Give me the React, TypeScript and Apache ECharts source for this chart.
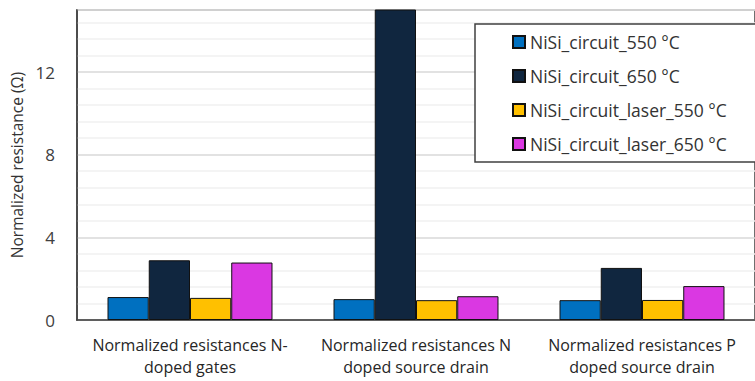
import React, { useEffect, useRef } from "react";
import * as echarts from "echarts";

const categories = [
  "Normalized resistances N-\ndoped gates",
  "Normalized resistances N\ndoped source drain",
  "Normalized resistances P\ndoped source drain",
];
const seriesNames = [
  "NiSi_circuit_550 °C",
  "NiSi_circuit_650 °C",
  "NiSi_circuit_laser_550 °C",
  "NiSi_circuit_laser_650 °C",
];
const nisi550 = [1.11, 1.01, 0.96];
const nisi650 = [2.89, 20, 2.52];
const laser550 = [1.07, 0.96, 0.97];
const laser650 = [2.78, 1.15, 1.64];
const seriesColors = ["#0070C0", "#10263F", "#FFC000", "#DA38E2"];
const yTickLabels = [0, 4, 8, 12];

export default function App() {
  const ref = useRef<HTMLDivElement>(null);
  useEffect(() => {
    if (!ref.current) return;
    const chart = echarts.init(ref.current, null, { renderer: "svg" });
    const values = [nisi550, nisi650, laser550, laser650];
    const font = "'Open Sans', 'Noto Sans', sans-serif";
    chart.setOption({
      animation: false,
      textStyle: { fontFamily: font },
      grid: { left: 77, right: -12, top: 10, bottom: 61, show: true, borderColor: "#404040", borderWidth: 1.5, backgroundColor: "transparent" },
      legend: {
        orient: "vertical",
        left: 507,
        top: 28,
        itemWidth: 12,
        itemHeight: 12,
        itemGap: 16,
        icon: "rect",
        data: seriesNames,
        textStyle: { fontFamily: font, fontSize: 17.5, color: "#333" },
        z: 10,
      },
      graphic: [
        {
          type: "rect",
          z: 9,
          shape: { x: 475, y: 24, width: 300, height: 138 },
          style: { fill: "#fff", stroke: "#404040", lineWidth: 1.5 },
        },
      ],
      xAxis: {
        type: "category",
        data: categories,
        axisTick: { show: false },
        axisLine: { lineStyle: { color: "#404040", width: 1.5 } },
        axisLabel: { interval: 0, color: "#262626", fontSize: 16, lineHeight: 22, margin: 14, fontFamily: font },
      },
      yAxis: {
        type: "value",
        min: 0,
        max: 15,
        interval: 0.8,
        name: "Normalized resistance (Ω)",
        nameLocation: "middle",
        nameGap: 50,
        nameTextStyle: { fontSize: 15.5, color: "#333", fontFamily: font },
        axisLine: { show: true, lineStyle: { color: "#404040", width: 1.5 } },
        axisTick: { show: false },
        axisLabel: {
          color: "#404040",
          fontSize: 17,
          margin: 22,
          showMaxLabel: false,
          fontFamily: font,
          formatter: (v: number) => {
            const hit = yTickLabels.find((t) => Math.abs(t - v) < 1e-6);
            return hit !== undefined ? String(hit) : "";
          },
        },
        splitLine: {
          lineStyle: { color: ["#d9d9d9", "#f0f0f0", "#f0f0f0", "#f0f0f0", "#f0f0f0"], width: 1.5 },
        },
      },
      series: seriesNames.map((n, i) => ({
        name: n,
        type: "bar",
        data: values[i],
        barGap: "0%",
        barCategoryGap: "27%",
        clip: true,
        itemStyle: { color: seriesColors[i], borderColor: "#111", borderWidth: 1 },
      })),
    });
    return () => chart.dispose();
  }, []);
  return <div ref={ref} style={{ width: 755, height: 381, position: "absolute", left: 0, top: 0 }} />;
}
